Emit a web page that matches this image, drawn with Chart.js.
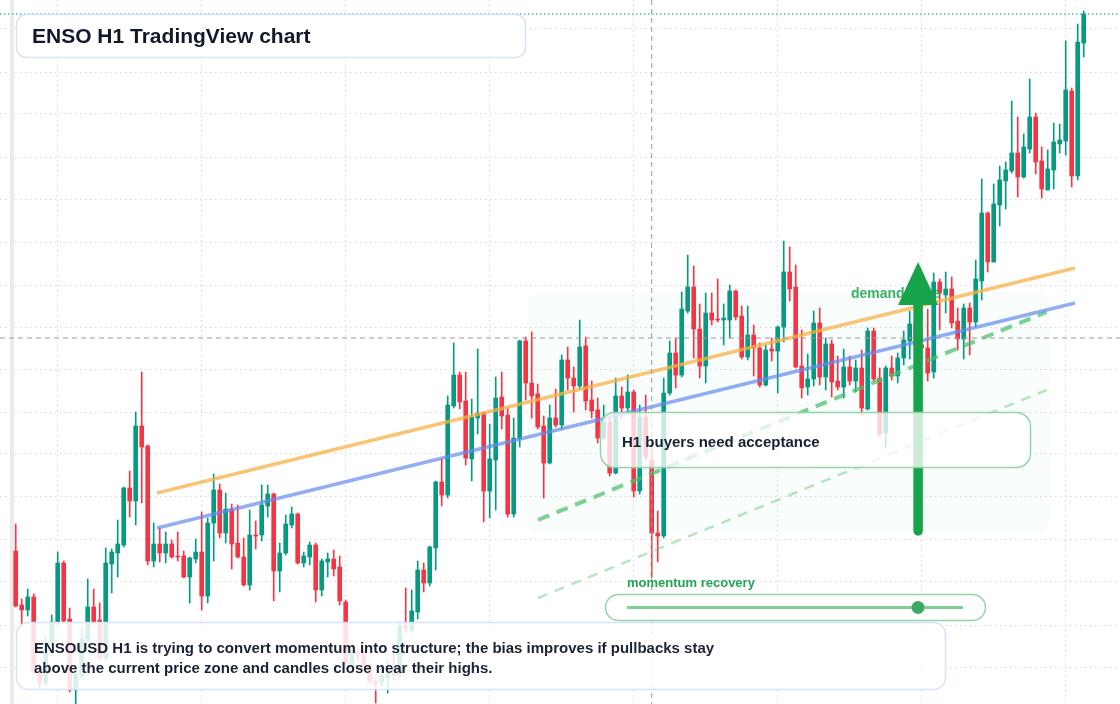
<!DOCTYPE html>
<html>
<head>
<meta charset="utf-8">
<title>ENSO H1 TradingView chart</title>
<script src="https://cdn.jsdelivr.net/npm/chart.js@4.4.1/dist/chart.umd.min.js"></script>
<style>
  html, body { margin:0; padding:0; background:#fff; }
  #wrap { width:1120px; height:704px; position:relative; overflow:hidden; }
</style>
</head>
<body>
<div id="wrap"><canvas id="c" width="1120" height="704"></canvas></div>
<script>
/* ---- DATA — ENSOUSD 1시간봉, 그림에서 읽은 값 ---- */
const opens = [
  1.153,1.099,1.094,1.107,1.032,1.021,1.062,1.082,1.141,1.085,
  1.014,1.029,1.064,1.097,1.084,1.046,1.140,1.151,1.159,1.216,
  1.203,1.278,1.258,1.143,1.160,1.151,1.160,1.148,1.148,1.127,
  1.145,1.152,1.108,1.181,1.214,1.171,1.195,1.161,1.147,1.119,
  1.169,1.169,1.198,1.210,1.133,1.151,1.179,1.190,1.141,1.147,
  1.159,1.114,1.142,1.145,1.137,1.102,1.037,1.052,1.051,1.039,
  1.023,1.021,1.026,1.032,1.029,1.078,1.074,1.092,1.134,1.121,
  1.156,1.222,1.209,1.298,1.329,1.303,1.245,1.286,1.291,1.213,
  1.244,1.307,1.289,1.190,1.265,1.363,1.321,1.310,1.278,1.241,
  1.286,1.279,1.344,1.326,1.318,1.358,1.304,1.294,1.266,1.282,
  1.231,1.308,1.296,1.312,1.213,1.287,1.244,1.171,1.168,1.311,
  1.351,1.329,1.393,1.417,1.375,1.338,1.391,1.385,1.384,1.384,
  1.413,1.388,1.347,1.369,1.356,1.319,1.355,1.353,1.377,1.432,
  1.417,1.338,1.317,1.325,1.381,1.327,1.360,1.323,1.317,1.337,
  1.323,1.336,1.295,1.373,1.326,1.271,1.336,1.328,1.346,1.363,
  1.380,1.359,1.356,1.332,1.422,1.409,1.415,1.383,1.365,1.396,
  1.382,1.423,1.491,1.442,1.499,1.523,1.533,1.551,1.527,1.555,
  1.587,1.543,1.514,1.534,1.560,1.563,1.613,1.528,1.661
];
const highs = [
  1.180,1.105,1.115,1.110,1.036,1.067,1.089,1.152,1.143,1.096,
  1.034,1.077,1.125,1.115,1.101,1.156,1.155,1.184,1.217,1.233,
  1.292,1.332,1.259,1.181,1.176,1.172,1.164,1.172,1.153,1.147,
  1.165,1.192,1.186,1.230,1.220,1.211,1.200,1.199,1.166,1.194,
  1.183,1.219,1.219,1.211,1.161,1.189,1.197,1.191,1.152,1.162,
  1.161,1.145,1.151,1.154,1.148,1.104,1.054,1.056,1.054,1.041,
  1.026,1.039,1.044,1.054,1.081,1.116,1.114,1.143,1.141,1.158,
  1.223,1.245,1.308,1.361,1.332,1.332,1.305,1.355,1.292,1.280,
  1.327,1.332,1.296,1.286,1.364,1.367,1.372,1.320,1.288,1.299,
  1.315,1.349,1.357,1.337,1.384,1.367,1.323,1.306,1.299,1.286,
  1.326,1.317,1.329,1.314,1.299,1.309,1.259,1.193,1.326,1.363,
  1.366,1.412,1.449,1.438,1.400,1.411,1.411,1.425,1.400,1.419,
  1.414,1.398,1.398,1.379,1.361,1.359,1.366,1.378,1.463,1.457,
  1.439,1.374,1.350,1.393,1.396,1.366,1.364,1.348,1.355,1.348,
  1.344,1.354,1.376,1.376,1.336,1.338,1.348,1.351,1.373,1.393,
  1.392,1.374,1.395,1.431,1.425,1.432,1.427,1.396,1.400,1.401,
  1.444,1.525,1.492,1.520,1.538,1.542,1.603,1.587,1.570,1.625,
  1.591,1.557,1.554,1.581,1.580,1.663,1.616,1.680,1.693
];
const lows = [
  1.097,1.077,1.088,1.030,1.016,1.019,1.059,1.079,1.080,1.012,
  1.000,1.027,1.062,1.079,1.044,1.044,1.111,1.127,1.157,1.187,
  1.179,1.201,1.139,1.137,1.142,1.141,1.146,1.143,1.126,1.101,
  1.141,1.094,1.101,1.143,1.166,1.161,1.135,1.146,1.118,1.114,
  1.155,1.163,1.187,1.103,1.112,1.149,1.176,1.140,1.137,1.139,
  1.102,1.108,1.127,1.128,1.099,1.039,1.034,1.044,1.036,1.020,
  1.001,1.018,1.011,1.024,1.027,1.071,1.071,1.085,1.112,1.118,
  1.134,1.198,1.206,1.296,1.295,1.239,1.223,1.270,1.182,1.186,
  1.194,1.275,1.187,1.187,1.257,1.304,1.286,1.275,1.206,1.240,
  1.277,1.275,1.314,1.292,1.315,1.294,1.286,1.261,1.264,1.228,
  1.230,1.286,1.291,1.207,1.210,1.244,1.127,1.142,1.166,1.309,
  1.316,1.327,1.391,1.346,1.326,1.321,1.379,1.382,1.359,1.366,
  1.384,1.345,1.344,1.328,1.317,1.318,1.343,1.311,1.362,1.403,
  1.336,1.306,1.309,1.318,1.319,1.314,1.307,1.314,1.306,1.319,
  1.312,1.289,1.294,1.323,1.268,1.257,1.324,1.321,1.339,1.345,
  1.352,1.349,1.323,1.326,1.374,1.391,1.376,1.354,1.345,1.349,
  1.377,1.404,1.432,1.442,1.478,1.495,1.531,1.507,1.526,1.551,
  1.530,1.506,1.514,1.515,1.551,1.549,1.517,1.524,1.647
];
const closes = [
  1.098,1.094,1.107,1.032,1.021,1.062,1.082,1.141,1.083,1.014,
  1.031,1.065,1.097,1.082,1.046,1.141,1.152,1.160,1.216,1.203,
  1.278,1.257,1.143,1.160,1.151,1.160,1.147,1.147,1.127,1.146,
  1.152,1.108,1.181,1.214,1.171,1.195,1.160,1.147,1.119,1.169,
  1.168,1.199,1.210,1.133,1.151,1.180,1.190,1.141,1.148,1.159,
  1.114,1.143,1.145,1.135,1.103,1.041,1.052,1.049,1.039,1.022,
  1.020,1.028,1.031,1.029,1.078,1.075,1.093,1.134,1.121,1.157,
  1.222,1.209,1.299,1.329,1.302,1.246,1.287,1.291,1.213,1.245,
  1.306,1.288,1.190,1.266,1.363,1.321,1.308,1.277,1.241,1.286,
  1.279,1.344,1.326,1.318,1.357,1.303,1.293,1.266,1.282,1.231,
  1.308,1.296,1.312,1.213,1.287,1.247,1.171,1.168,1.311,1.351,
  1.329,1.395,1.417,1.375,1.338,1.391,1.384,1.384,1.386,1.413,
  1.387,1.347,1.369,1.356,1.319,1.354,1.353,1.377,1.432,1.415,
  1.337,1.316,1.325,1.381,1.327,1.360,1.322,1.317,1.337,1.323,
  1.336,1.296,1.373,1.325,1.270,1.336,1.328,1.346,1.364,1.380,
  1.359,1.356,1.331,1.422,1.411,1.415,1.381,1.365,1.396,1.382,
  1.425,1.491,1.442,1.500,1.524,1.534,1.551,1.527,1.557,1.587,
  1.542,1.515,1.535,1.562,1.564,1.614,1.528,1.662,1.690
];

// 가격 눈금(가로 점선)과 일 구분선(24봉마다 세로 점선)
const priceGrid = [1.037,1.079,1.122,1.165,1.207,1.250,1.292,1.335,1.377,1.419,1.462,1.505,1.547,1.590,1.632,1.675];
const dayGrid = [7,31,55,79,103,127,151,175];

// 추세선: [시작봉, 시작가, 끝봉, 끝가]
const resistLine = [23.55, 1.211, 176.55, 1.436];
const supportLine = [23.55, 1.176, 176.55, 1.401];
const channelTop = [87.05, 1.184, 171.8, 1.392];
const channelLow = [87.05, 1.106, 171.8, 1.314];

// 수요 구간과 화살표, 크로스헤어 (봉 번호 / 가격)
const demandZone = {x0:85.2, x1:172.4, lo:1.171, hi:1.412};
const arrowMark = {x:150.4, from:1.173, to:1.442};
const crosshair = {x:106, y:1.366};

const UP = "#089981", DOWN = "#f23645";
const FONT = '"Liberation Sans", Arial, Helvetica, sans-serif';

function candleColor(ctx){
  const i = ctx.dataIndex;
  return closes[i] >= opens[i] ? UP : DOWN;
}
function seg(a){ return [{x:a[0], y:a[1]}, {x:a[2], y:a[3]}]; }

function rr(ctx, x, y, w, h, r){
  ctx.beginPath();
  ctx.moveTo(x+r, y);
  ctx.arcTo(x+w, y, x+w, y+h, r);
  ctx.arcTo(x+w, y+h, x, y+h, r);
  ctx.arcTo(x, y+h, x, y, r);
  ctx.arcTo(x, y, x+w, y, r);
  ctx.closePath();
}

const overlay = {
  id: "overlay",
  beforeDatasetsDraw(chart){
    const {ctx, scales:{x, y}} = chart;
    ctx.save();
    // left price-scale edge
    ctx.fillStyle = "#ebebeb";
    ctx.fillRect(10, 0, 4, chart.height);
    // demand zone
    const zx = x.getPixelForValue(demandZone.x0), zx1 = x.getPixelForValue(demandZone.x1);
    const zy = y.getPixelForValue(demandZone.hi), zy1 = y.getPixelForValue(demandZone.lo);
    rr(ctx, zx, zy, zx1-zx, zy1-zy, 14);
    ctx.fillStyle = "rgba(34,197,94,0.028)";
    ctx.fill();
    ctx.restore();
  },
  afterDatasetsDraw(chart){
    const {ctx, scales:{x, y}} = chart;
    const W = chart.width, H = chart.height;
    ctx.save();

    // last price line
    const lp = y.getPixelForValue(closes[closes.length-1]);
    ctx.strokeStyle = UP; ctx.lineWidth = 1.2; ctx.setLineDash([1.5,2.5]);
    ctx.beginPath(); ctx.moveTo(0, lp); ctx.lineTo(W, lp); ctx.stroke();

    // crosshair
    const cx = x.getPixelForValue(crosshair.x), cy = y.getPixelForValue(crosshair.y);
    ctx.strokeStyle = "#9b9b9b"; ctx.lineWidth = 1; ctx.setLineDash([5,4]);
    ctx.beginPath(); ctx.moveTo(0, cy); ctx.lineTo(W, cy); ctx.stroke();
    ctx.beginPath(); ctx.moveTo(cx, 0); ctx.lineTo(cx, H); ctx.stroke();
    ctx.setLineDash([]);

    // demand zone label
    ctx.font = "bold 14px " + FONT;
    ctx.textBaseline = "middle";
    ctx.fillStyle = "rgba(22,163,74,0.85)";
    ctx.fillText("demand zone", 851, 294);

    // arrow
    const ax = x.getPixelForValue(arrowMark.x);
    const aBase = y.getPixelForValue(arrowMark.from), aTip = y.getPixelForValue(arrowMark.to);
    ctx.strokeStyle = "#16a34a"; ctx.fillStyle = "#16a34a";
    ctx.lineWidth = 9.5; ctx.lineCap = "round";
    ctx.beginPath(); ctx.moveTo(ax, aBase); ctx.lineTo(ax, aTip + 40); ctx.stroke();
    ctx.lineCap = "butt";
    ctx.beginPath(); ctx.moveTo(ax, aTip); ctx.lineTo(ax + 20, aTip + 43); ctx.lineTo(ax - 20, aTip + 43); ctx.closePath(); ctx.fill();

    // H1 note box
    rr(ctx, 600.5, 412.5, 430, 55, 14);
    ctx.fillStyle = "rgba(255,255,255,0.78)"; ctx.fill();
    ctx.strokeStyle = "#93d4a8"; ctx.lineWidth = 1.5; ctx.stroke();
    ctx.font = "bold 15px " + FONT;
    ctx.fillStyle = "#172033";
    ctx.fillText("H1 buyers need acceptance", 622, 442.5);

    // momentum slider
    ctx.font = "bold 13px " + FONT;
    ctx.fillStyle = "#22a355";
    ctx.fillText("momentum recovery", 627, 583);
    rr(ctx, 605.5, 594.5, 380, 26, 13);
    ctx.fillStyle = "rgba(255,255,255,0.9)"; ctx.fill();
    ctx.strokeStyle = "#93d4a8"; ctx.lineWidth = 1.5; ctx.stroke();
    ctx.strokeStyle = "#7fcf98"; ctx.lineWidth = 3;
    ctx.beginPath(); ctx.moveTo(627, 607.5); ctx.lineTo(963, 607.5); ctx.stroke();
    ctx.fillStyle = "#3aab5f";
    ctx.beginPath(); ctx.arc(918, 607.5, 6.5, 0, Math.PI*2); ctx.fill();

    // bottom commentary
    rr(ctx, 16.5, 622.5, 929, 67, 12);
    ctx.fillStyle = "rgba(255,255,255,0.85)"; ctx.fill();
    ctx.strokeStyle = "#d6e2f5"; ctx.lineWidth = 1.5; ctx.stroke();
    ctx.font = "bold 15px " + FONT;
    ctx.fillStyle = "#1a2233";
    ctx.fillText("ENSOUSD H1 is trying to convert momentum into structure; the bias improves if pullbacks stay", 34, 648.5);
    ctx.fillText("above the current price zone and candles close near their highs.", 34, 668.5);

    // title
    rr(ctx, 16.5, 14.5, 509, 43, 10);
    ctx.fillStyle = "#ffffff"; ctx.fill();
    ctx.strokeStyle = "#d6e2f5"; ctx.lineWidth = 1.5; ctx.stroke();
    ctx.font = "bold 21px " + FONT;
    ctx.fillStyle = "#111827";
    ctx.fillText("ENSO H1 TradingView chart", 32, 37.5);

    ctx.restore();
  }
};

const idx = opens.map((_, i) => i);

new Chart(document.getElementById("c"), {
  type: "bar",
  data: {
    datasets: [
      {type:"line", data:seg(resistLine), borderColor:"rgba(245,178,70,0.75)", borderWidth:3.5, pointRadius:0, order:0},
      {type:"line", data:seg(supportLine), borderColor:"rgba(100,140,240,0.7)", borderWidth:3.5, pointRadius:0, order:0},
      {type:"line", data:seg(channelTop), borderColor:"rgba(74,190,110,0.72)", borderWidth:4, borderDash:[12,8], pointRadius:0, order:0},
      {type:"line", data:seg(channelLow), borderColor:"rgba(74,190,110,0.4)", borderWidth:2.5, borderDash:[10,8], pointRadius:0, order:0},
      {label:"body", data:idx.map(i => ({x:i, y:[opens[i], closes[i]]})),
        backgroundColor:candleColor, borderWidth:0, barThickness:4, maxBarThickness:4, grouped:false, order:1},
      {label:"wick", data:idx.map(i => ({x:i, y:[lows[i], highs[i]]})),
        backgroundColor:candleColor, borderWidth:0, barThickness:1, maxBarThickness:1, grouped:false, order:2}
    ]
  },
  options: {
    responsive:false,
    animation:false,
    layout:{padding:0, autoPadding:false},
    plugins:{legend:{display:false}, tooltip:{enabled:false}},
    scales:{
      x:{
        type:"linear", min:-2.617, max:184.05, offset:false,
        ticks:{display:false},
        grid:{color:"#d3d6db", lineWidth:1, drawTicks:false, offset:false},
        border:{display:false, dash:[1.5,3.5]},
        afterBuildTicks:s => { s.ticks = dayGrid.map(v => ({value:v})); },
        afterFit:s => { s.height = 0; }
      },
      y:{
        type:"linear", min:1.0, max:1.704,
        ticks:{display:false},
        grid:{color:"#d3d6db", lineWidth:1, drawTicks:false},
        border:{display:false, dash:[1.5,3.5]},
        afterBuildTicks:s => { s.ticks = priceGrid.map(v => ({value:v})); },
        afterFit:s => { s.width = 0; }
      }
    }
  },
  plugins:[overlay]
});
</script>
</body>
</html>
